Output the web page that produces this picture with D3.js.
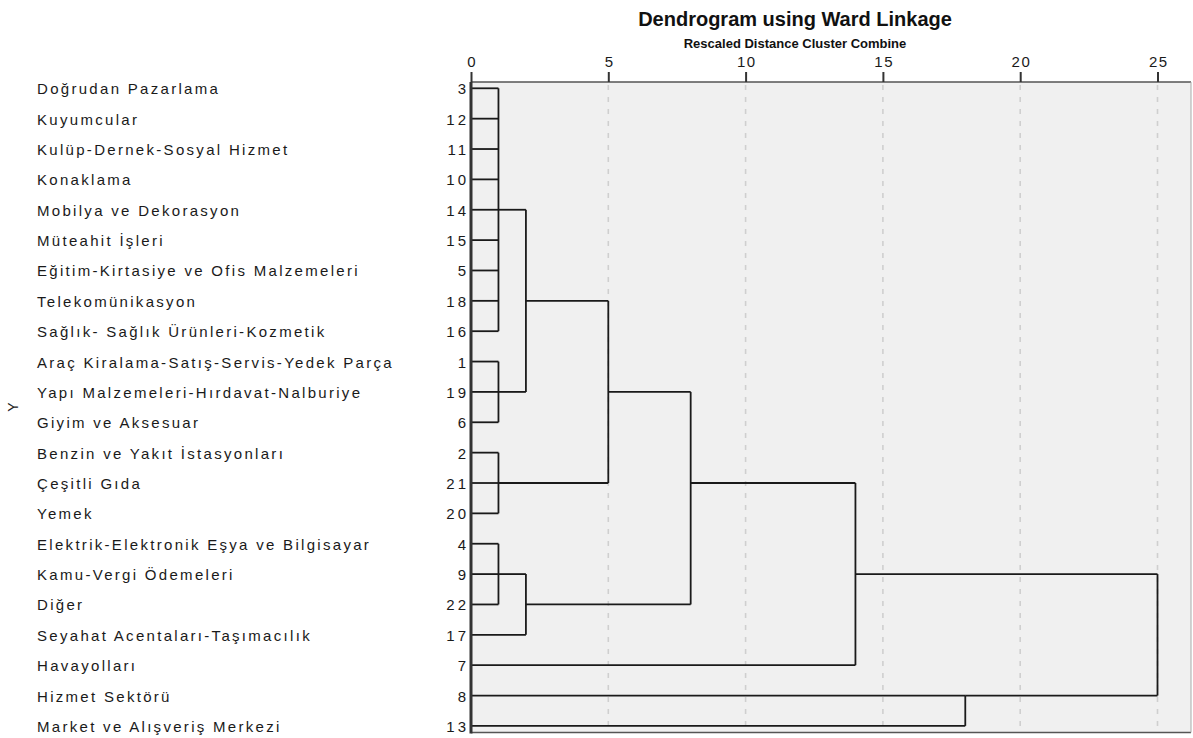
<!DOCTYPE html>
<html>
<head>
<meta charset="utf-8">
<script src="https://cdn.jsdelivr.net/npm/d3@7"></script>
<style>
body{margin:0;background:#fff}
svg{display:block}
</style>
</head>
<body>
<svg width="1193" height="738"></svg>
<script>
// leaves, top to bottom
var leafIds = [3,12,11,10,14,15,5,18,16,1,19,6,2,21,20,4,9,22,17,7,8,13];
var leafNames = ["Doğrudan Pazarlama","Kuyumcular","Kulüp-Dernek-Sosyal Hizmet","Konaklama",
  "Mobilya ve Dekorasyon","Müteahit İşleri","Eğitim-Kirtasiye ve Ofis Malzemeleri","Telekomünikasyon",
  "Sağlık- Sağlık Ürünleri-Kozmetik","Araç Kiralama-Satış-Servis-Yedek Parça","Yapı Malzemeleri-Hırdavat-Nalburiye",
  "Giyim ve Aksesuar","Benzin ve Yakıt İstasyonları","Çeşitli Gıda","Yemek","Elektrik-Elektronik Eşya ve Bilgisayar",
  "Kamu-Vergi Ödemeleri","Diğer","Seyahat Acentaları-Taşımacılık","Havayolları","Hizmet Sektörü","Market ve Alışveriş Merkezi"];

// cluster merges (members are leaf ids or earlier merges) and rescaled distance
var mergeNames   = ["c1","c2","c3","c4","c5","c6","c7","c8","c9","c10","c11"];
var mergeMembers = [[3,12,11,10,14,15,5,18,16],[1,19,6],[2,21,20],[4,9,22],["c1","c2"],["c4",17],
                    ["c5","c3"],["c7","c6"],["c8",7],[8,13],["c9","c10"]];
var mergeDist    = [1,1,1,1,2,2,5,8,14,18,25];

var tickVals = [0,5,10,15,20,25];

var svg = d3.select("svg");
var pLeft = 471, pTop = 82, pRight = 1191, pBottom = 732.5;
var font = "Liberation Sans, Arial, sans-serif";

var x = d3.scaleLinear().domain([0,25]).range([pLeft,1157.5]);
var y = d3.scalePoint().domain(d3.range(leafIds.length)).range([88.3,725.9]);

// plot background
svg.append("rect")
  .attr("x",pLeft).attr("y",pTop)
  .attr("width",pRight-pLeft).attr("height",pBottom-pTop)
  .attr("fill","#f0f0f0");

// dashed grid
svg.append("g").selectAll("line")
  .data(tickVals.filter(d=>d>0))
  .enter().append("line")
  .attr("x1",d=>x(d)).attr("x2",d=>x(d))
  .attr("y1",pTop+3).attr("y2",pBottom)
  .attr("stroke","#cfcfcf")
  .attr("stroke-width",1.6)
  .attr("stroke-dasharray","5,7");

// node positions: leaves at distance 0, merges at row between first and last member
var nodes = {};
leafIds.forEach((id,i)=>{ nodes[id] = {row:i, dist:0}; });
var lines = svg.append("g")
  .attr("stroke","#1a1a1a")
  .attr("stroke-width",1.8)
  .attr("fill","none");

mergeNames.forEach(function(name,i){
  var mem = mergeMembers[i].map(m=>nodes[m]);
  var d = mergeDist[i];
  var r0 = mem[0].row, r1 = mem[mem.length-1].row;
  mem.forEach(function(m){
    lines.append("line")
      .attr("x1",x(m.dist)).attr("x2",x(d))
      .attr("y1",y(m.row)).attr("y2",y(m.row));
  });
  lines.append("line")
    .attr("x1",x(d)).attr("x2",x(d))
    .attr("y1",y(r0)).attr("y2",y(r1));
  nodes[name] = {row:Math.floor((r0+r1)/2), dist:d};
});

// frame
svg.append("line").attr("x1",pLeft).attr("x2",pRight).attr("y1",pTop).attr("y2",pTop)
  .attr("stroke","#555").attr("stroke-width",1.5);
svg.append("line").attr("x1",pLeft).attr("x2",pRight).attr("y1",pBottom).attr("y2",pBottom)
  .attr("stroke","#555").attr("stroke-width",1.5);
svg.append("line").attr("x1",pRight).attr("x2",pRight).attr("y1",pTop).attr("y2",pBottom)
  .attr("stroke","#aaa").attr("stroke-width",1);
svg.append("line").attr("x1",pLeft).attr("x2",pLeft).attr("y1",pTop).attr("y2",pBottom+1)
  .attr("stroke","#333").attr("stroke-width",3);

// top axis
var axis = svg.append("g")
  .attr("transform","translate(0,"+pTop+")")
  .call(d3.axisTop(x).tickValues(tickVals).tickSize(10).tickPadding(5));
axis.select(".domain").remove();
axis.selectAll(".tick line").attr("stroke","#333").attr("stroke-width",2);
axis.selectAll(".tick text")
  .attr("font-family",font)
  .attr("font-size",15).attr("fill","#1a1a1a")
  .attr("letter-spacing","1.5px")
  .attr("dx","0.75px");

// leaf labels
var lab = svg.append("g")
  .attr("font-family",font)
  .attr("font-size",15).attr("fill","#1a1a1a");
lab.selectAll(".name").data(leafNames).enter().append("text")
  .attr("class","name")
  .attr("x",37).attr("y",(d,i)=>y(i)).attr("dy","0.4em")
  .attr("letter-spacing","2.3px")
  .text(d=>d);
lab.selectAll(".num").data(leafIds).enter().append("text")
  .attr("class","num")
  .attr("x",469).attr("y",(d,i)=>y(i)).attr("dy","0.4em")
  .attr("text-anchor","end")
  .attr("letter-spacing","3px")
  .text(d=>d);

// titles
svg.append("text").attr("x",795).attr("y",26).attr("text-anchor","middle")
  .attr("font-family",font)
  .attr("font-weight","bold").attr("font-size",20).attr("fill","#111")
  .text("Dendrogram using Ward Linkage");
svg.append("text").attr("x",795).attr("y",48).attr("text-anchor","middle")
  .attr("font-family",font)
  .attr("font-weight","bold").attr("font-size",13).attr("fill","#111")
  .text("Rescaled Distance Cluster Combine");

// axis title
svg.append("text")
  .attr("transform","translate(18,407) rotate(-90)")
  .attr("text-anchor","middle")
  .attr("font-family",font)
  .attr("font-size",14).attr("fill","#222")
  .text("Y");
</script>
</body>
</html>
